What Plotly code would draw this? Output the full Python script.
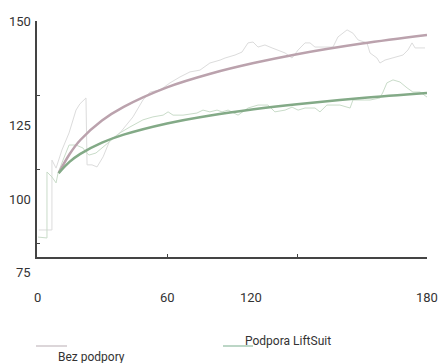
import plotly.graph_objects as go

# Raw series
bez_x = [0.8, 6.9, 6.9, 8.8, 11.5, 14.8, 18.0, 19.8, 22.6, 23.1, 25.4, 27.7, 30.5, 33.7, 38.3, 44.3, 48.9,
         52.2, 56.8, 61.4, 66.0, 70.6, 75.2, 79.8, 84.5, 86.8, 91.4, 94.6, 97.4, 99.7, 102.0, 105.2, 108.5,
         111.2, 114.5, 117.7, 120.5, 123.7, 126.0, 128.3, 132.9, 136.6, 138.9, 143.1, 145.8, 148.2, 152.3,
         153.7, 156.9, 158.3, 160.6, 164.3, 168.9, 171.2, 173.1, 174.5, 176.8, 179.1]
bez_y = [79.4, 79.4, 103.0, 100.3, 106.4, 112.2, 119.9, 122.0, 124.0, 101.4, 101.4, 100.7, 104.1, 109.8, 112.2,
         117.6, 123.3, 126.0, 126.7, 129.1, 131.1, 132.8, 133.4, 135.8, 136.8, 137.5, 138.5, 139.5, 142.6, 142.9,
         141.2, 141.9, 140.9, 140.2, 139.2, 137.5, 140.2, 142.6, 142.6, 141.2, 141.2, 141.2, 144.6, 147.0, 145.9,
         143.6, 142.6, 139.2, 137.5, 135.8, 136.8, 137.5, 138.5, 140.2, 142.6, 140.9, 140.9, 140.9]

lift_x = [0.5, 4.6, 4.6, 6.9, 8.8, 9.7, 12.0, 14.8, 18.0, 21.2, 22.6, 24.0, 27.2, 30.5, 33.2, 36.0, 38.3, 42.9,
          46.1, 48.9, 53.5, 58.2, 60.5, 62.8, 67.4, 73.8, 76.6, 79.8, 83.1, 85.4, 88.2, 92.8, 97.4, 102.0, 106.6,
          109.8, 114.5, 117.7, 120.5, 123.7, 128.3, 130.6, 133.8, 139.8, 144.5, 145.8, 153.7, 158.3, 159.7, 161.5,
          164.3, 167.5, 170.8, 173.5, 176.8, 180.0]
lift_y = [77.0, 76.7, 99.0, 97.3, 95.3, 98.6, 103.0, 108.1, 108.1, 107.1, 105.7, 104.7, 105.4, 107.4, 109.1, 110.8,
          112.2, 114.2, 115.5, 116.6, 117.6, 118.2, 119.3, 118.2, 118.2, 118.9, 119.9, 119.3, 119.9, 119.3, 119.9,
          118.2, 120.6, 121.6, 121.6, 119.3, 119.9, 120.9, 119.9, 120.6, 120.6, 119.3, 121.6, 121.6, 120.6, 123.3,
          123.3, 124.0, 126.0, 129.1, 130.1, 129.4, 127.4, 126.0, 126.0, 124.3]

# Fitted trend curves
fit_x = [10, 15, 20, 30, 40, 60, 80, 100, 120, 150, 180]
fit_bez = [98.6, 105.0, 109.8, 116.4, 121.0, 127.6, 132.2, 135.8, 138.8, 142.4, 145.3]
fit_lift = [98.6, 102.4, 105.1, 108.9, 111.6, 115.4, 118.1, 120.2, 121.9, 124.0, 125.7]

x_ticks = [0, 60, 120, 180]
y_ticks = [75, 100, 125, 150]
x_tick_labels = ["0", "60", "120", "180"]
y_tick_labels = ["150", "125", "100", "75"]
series_names = ["Bez podpory", "Podpora LiftSuit"]

GREY_RAW = "#dcdcdc"
GREEN_RAW = "#c9dcc9"
MAUVE = "#bba2ad"
GREEN = "#83aa87"
FONT = "Roboto"

fig = go.Figure()
fig.add_trace(go.Scatter(x=bez_x, y=bez_y, mode="lines", line=dict(color=GREY_RAW, width=1), showlegend=False))
fig.add_trace(go.Scatter(x=lift_x, y=lift_y, mode="lines", line=dict(color=GREEN_RAW, width=1), showlegend=False))
fig.add_trace(go.Scatter(x=fit_x, y=fit_bez, mode="lines", line=dict(color=MAUVE, width=2.5, shape="spline"), showlegend=False))
fig.add_trace(go.Scatter(x=fit_x, y=fit_lift, mode="lines", line=dict(color=GREEN, width=2.5, shape="spline"), showlegend=False))

W, H = 440, 363
L, T = 37, 21
pw, ph = 390, 236
R, B = W - L - pw, H - T - ph

def px_to_paper(px, py):
    return (px - L) / pw, (T + ph - py) / ph

annotations = []
for lab, py in zip(y_tick_labels, [21, 125, 199, 272]):
    xp, yp = px_to_paper(33, py)
    annotations.append(dict(x=xp, y=yp, xref="paper", yref="paper", text=lab, showarrow=False,
                            xanchor="right", yanchor="middle", font=dict(family=FONT, size=13, color="#333")))
for lab, pxx in zip(x_tick_labels, [37, 167, 251, 427]):
    xp, yp = px_to_paper(pxx, 297)
    annotations.append(dict(x=xp, y=yp, xref="paper", yref="paper", text=lab, showarrow=False,
                            xanchor="center", yanchor="middle", font=dict(family=FONT, size=13, color="#333")))
shapes = []
for (x0, x1, ys), col in zip([(36, 67, 346), (223, 253, 346)], ["#dcd6d9", "#bcd6c6"]):
    a0, b0 = px_to_paper(x0, ys)
    a1, _ = px_to_paper(x1, ys)
    shapes.append(dict(type="line", xref="paper", yref="paper", x0=a0, x1=a1, y0=b0, y1=b0,
                       line=dict(color=col, width=2)))
for name, (tx, ty) in zip(series_names, [(56, 357), (243, 341)]):
    xp, yp = px_to_paper(tx, ty)
    annotations.append(dict(x=xp, y=yp, xref="paper", yref="paper", text=name, showarrow=False,
                            xanchor="left", yanchor="middle", font=dict(family=FONT, size=12, color="#333")))

fig.update_layout(
    width=W, height=H, margin=dict(l=L, r=R, t=T, b=B, pad=0),
    paper_bgcolor="white", plot_bgcolor="white",
    showlegend=False, annotations=annotations, shapes=shapes,
    xaxis=dict(range=[0, 180], tickvals=x_ticks, showticklabels=False, ticks="inside", ticklen=3,
               tickcolor="#444", showline=True, linecolor="#444", linewidth=1.5, showgrid=False, zeroline=False),
    yaxis=dict(range=[70.27, 150], tickvals=y_ticks, showticklabels=False, ticks="inside", ticklen=3,
               tickcolor="#444", showline=True, linecolor="#444", linewidth=1.5, showgrid=False, zeroline=False),
)
fig.write_html("out.html", config={"displayModeBar": False},
               post_script="document.body.style.margin='0';document.body.style.overflow='hidden';"
                           "document.documentElement.style.overflow='hidden';")
